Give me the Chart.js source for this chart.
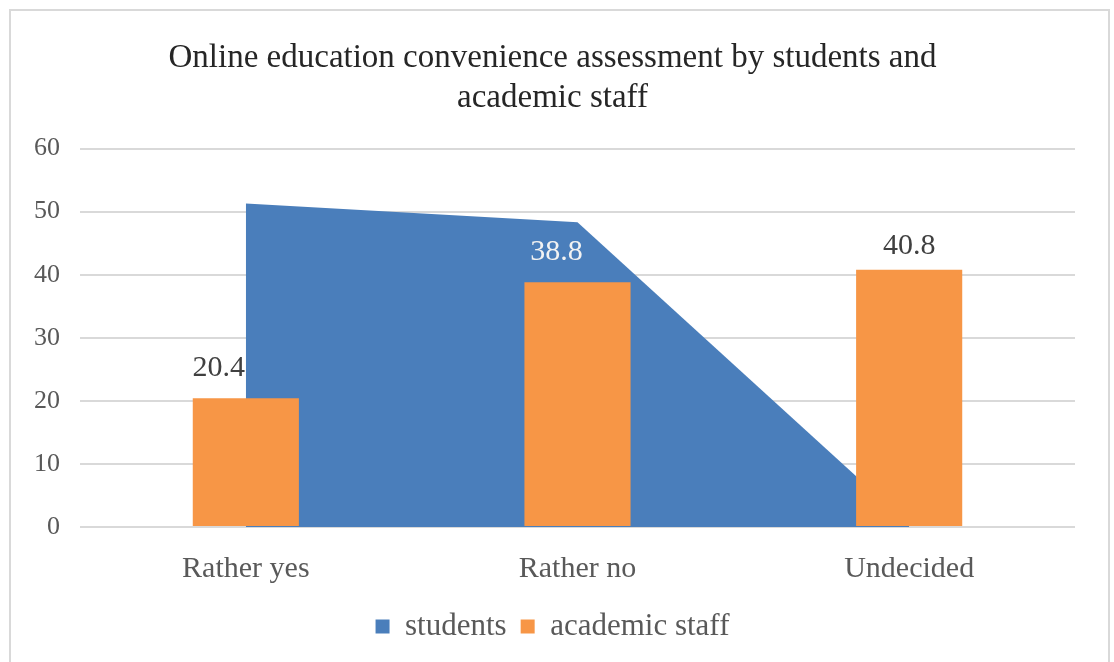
<!DOCTYPE html>
<html>
<head>
<meta charset="utf-8">
<script src="https://cdn.jsdelivr.net/npm/chart.js@4"></script>
<style>
  html, body { margin: 0; padding: 0; background: #fff; }
  #wrap { position: relative; width: 1114px; height: 662px; overflow: hidden; }
  #frame { position: absolute; left: 9px; top: 9px; width: 1097px; height: 700px; border: 2px solid #d9d9d9; }
  #c { position: absolute; left: 0; top: 0; }
</style>
</head>
<body>
<div id="wrap">
  <div id="frame"></div>
  <canvas id="c" width="1114" height="662"></canvas>
</div>
<script>
// datos
const categories = ['Rather yes', 'Rather no', 'Undecided'];
const students = [51.3, 48.3, 0.4];
const academicStaff = [20.4, 38.8, 40.8];
const yTicks = [0, 10, 20, 30, 40, 50, 60];

const serif = "'Liberation Serif', 'Times New Roman', serif";
const blue = '#4a7ebb';
const orange = '#f79646';

// etiquetas de valor encima de las barras
const barLabels = {
  id: 'barLabels',
  afterDatasetsDraw(chart) {
    const meta = chart.getDatasetMeta(1);
    const ctx = chart.ctx;
    const shiftX = [-27, -21, 0];
    const shiftY = [30, 30, 24];
    const colors = ['#404040', '#f2f2f2', '#404040'];
    ctx.save();
    ctx.font = '30px ' + serif;
    ctx.textAlign = 'center';
    ctx.textBaseline = 'middle';
    meta.data.forEach((bar, i) => {
      ctx.fillStyle = colors[i];
      ctx.fillText(String(academicStaff[i]), bar.x + shiftX[i], bar.y - shiftY[i]);
    });
    ctx.restore();
  }
};

new Chart(document.getElementById('c'), {
  type: 'bar',
  data: {
    labels: categories,
    datasets: [
      {
        type: 'line',
        label: 'students',
        data: students,
        backgroundColor: blue,
        borderColor: blue,
        borderWidth: 0,
        fill: 'origin',
        tension: 0,
        pointRadius: 0,
        order: 1
      },
      {
        label: 'academic staff',
        data: academicStaff,
        backgroundColor: orange,
        borderWidth: 0,
        categoryPercentage: 1,
        barPercentage: 0.32,
        order: 0
      }
    ]
  },
  options: {
    responsive: false,
    animation: false,
    layout: { padding: { left: 30, right: 39, top: 18, bottom: 10 } },
    plugins: {
      title: {
        display: true,
        text: ['Online education convenience assessment by students and', 'academic staff'],
        font: { family: serif, size: 33, weight: 'normal', lineHeight: 1.22 },
        color: '#262626',
        padding: { top: 20, bottom: 30 }
      },
      legend: {
        position: 'bottom',
        labels: {
          font: { family: serif, size: 31 },
          color: '#595959',
          boxWidth: 14,
          boxHeight: 14,
          padding: 14,
          sort: (a, b) => a.datasetIndex - b.datasetIndex
        }
      },
      tooltip: { enabled: false }
    },
    scales: {
      x: {
        grid: { display: false },
        border: { display: false },
        ticks: { font: { family: serif, size: 30 }, color: '#595959', padding: 16 },
        afterFit(scale) { scale.height = 70; }
      },
      y: {
        min: 0,
        max: 60,
        afterBuildTicks(scale) { scale.ticks = yTicks.map(v => ({ value: v })); },
        grid: { color: '#d9d9d9', lineWidth: 2, drawTicks: false },
        border: { display: false },
        ticks: { font: { family: serif, size: 26 }, color: '#595959', padding: 20 },
        afterFit(scale) { scale.width = 50; }
      }
    }
  },
  plugins: [barLabels]
});
</script>
</body>
</html>
